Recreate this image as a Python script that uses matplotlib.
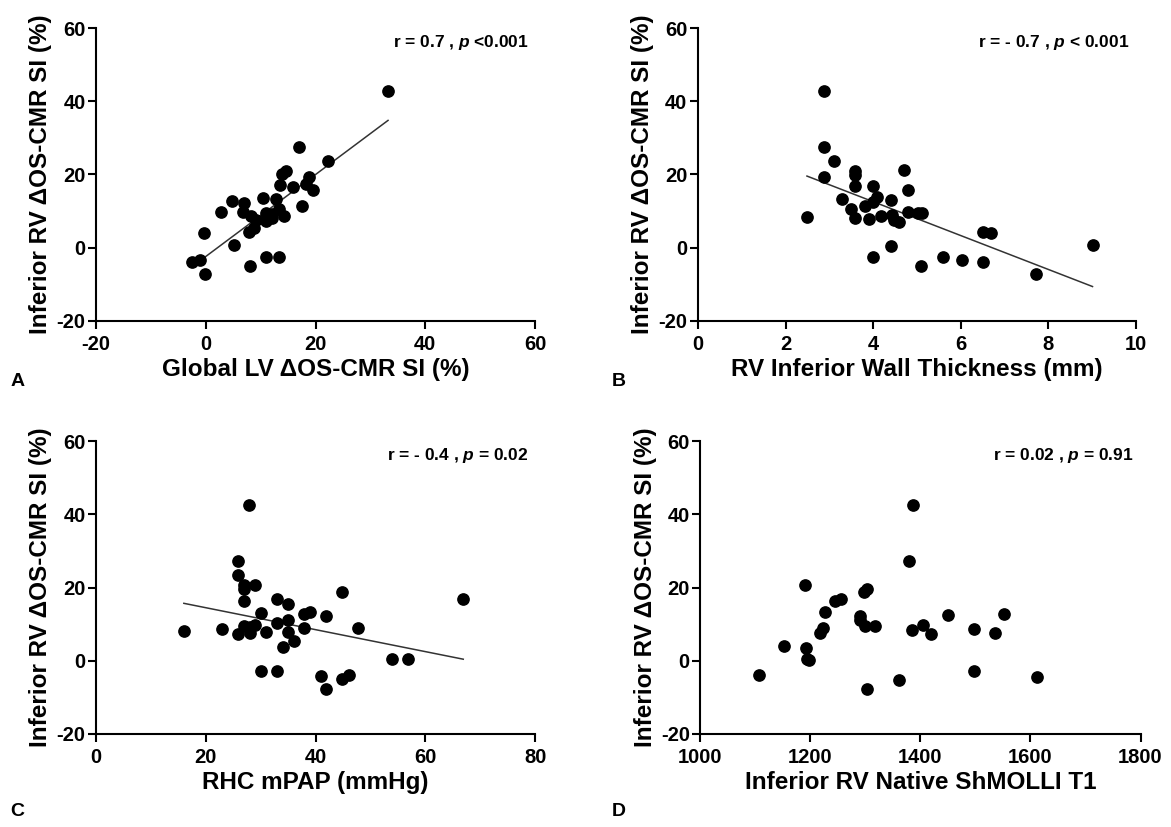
import numpy as np
import matplotlib
matplotlib.use("Agg")
import matplotlib.pyplot as plt

plt.rcParams['font.family'] = ['Liberation Sans', 'DejaVu Sans']
plt.rcParams['font.weight'] = 'bold'
plt.rcParams['axes.unicode_minus'] = False
plt.rcParams['mathtext.fontset'] = 'custom'
plt.rcParams['mathtext.rm'] = 'Liberation Sans:bold'
plt.rcParams['mathtext.it'] = 'Liberation Sans:italic:bold'

# Panel A: global LV vs inferior RV
a_x = [33.2, 16.9, 22.2, 14.7, 13.9, 18.8, 18.2, 13.5, 15.8, 19.5, 4.8, 7.0, 10.4, 12.7,
       17.6, 2.8, 6.7, 8.2, 10.9, 12.1, 14.2, 13.3, 9.1, 10.9, 12.1, 8.8, 7.9, -0.4, 5.2,
       -2.5, -1.1, -0.1, 8.1, 11.0, 13.3]
a_y = [42.7, 27.5, 23.6, 20.9, 20.0, 19.4, 17.5, 17.1, 16.6, 15.7, 12.7, 12.3, 13.6, 13.2,
       11.4, 9.8, 9.7, 8.6, 9.5, 9.1, 8.6, 10.5, 7.7, 7.3, 8.2, 5.5, 4.4, 4.1, 0.7,
       -3.9, -3.4, -7.3, -5.0, -2.5, -2.5]
a_fit = (1.12, -2.4)

# Panel B: wall thickness
b_x = [2.89, 2.89, 3.10, 2.89, 3.59, 3.59, 3.59, 4.71, 4.00, 4.80, 3.30, 4.10, 4.00, 4.40,
       3.81, 3.50, 3.59, 3.90, 4.19, 4.44, 4.47, 4.59, 4.80, 5.03, 5.12, 2.49, 6.51, 6.70,
       4.40, 4.00, 5.10, 5.60, 6.02, 6.51, 7.72, 9.01]
b_y = [42.8, 27.5, 23.6, 19.2, 20.9, 19.8, 16.9, 21.1, 16.8, 15.7, 13.4, 13.8, 12.4, 12.9,
       11.5, 10.5, 8.2, 7.8, 8.7, 8.8, 7.5, 7.1, 9.8, 9.4, 9.5, 8.3, 4.4, 3.9,
       0.5, -2.6, -5.0, -2.6, -3.5, -4.0, -7.3, 0.7]
b_fit = (-4.63, 31.1)

# Panel C: mPAP
c_x = [27.9, 25.9, 25.9, 26.9, 26.9, 28.9, 44.9, 66.9, 26.9, 32.9, 34.9, 30.0, 37.9, 39.0,
       41.9, 32.9, 34.9, 26.9, 28.0, 28.9, 16.0, 23.0, 25.9, 28.0, 30.9, 34.9, 37.9, 47.8,
       36.0, 34.0, 53.9, 56.9, 30.0, 32.9, 41.0, 44.9, 46.0, 41.9]
c_y = [42.6, 27.4, 23.5, 20.7, 19.6, 20.7, 18.9, 16.9, 16.3, 16.8, 15.5, 13.0, 12.7, 13.4,
       12.1, 10.4, 11.1, 9.6, 9.3, 9.8, 8.1, 8.6, 7.2, 7.5, 7.8, 7.9, 8.9, 8.9,
       5.4, 3.8, 0.5, 0.4, -2.7, -2.7, -4.2, -5.1, -3.9, -7.6]
c_fit = (-0.30, 20.5)

# Panel D: native T1
d_x = [1386, 1379, 1191, 1297, 1303, 1244, 1256, 1226, 1290, 1290, 1300, 1318, 1450, 1552,
       1405, 1384, 1419, 1497, 1536, 1223, 1218, 1153, 1193, 1197, 1194, 1106, 1497, 1612,
       1303, 1362]
d_y = [42.5, 27.3, 20.6, 18.8, 19.7, 16.2, 16.8, 13.2, 12.1, 11.1, 9.4, 9.4, 12.5, 12.9,
       9.7, 8.5, 7.3, 8.8, 7.5, 8.9, 7.7, 4.1, 3.6, 0.2, 0.5, -3.9, -2.9, -4.4,
       -7.7, -5.3]

ylab = 'Inferior RV ΔOS-CMR SI (%)'
panels = [
    ('A', a_x, a_y, a_fit, (-20, 60), [-20, 0, 20, 40, 60], 'Global LV ΔOS-CMR SI (%)',
     'r = 0.7 , $p$ <0.001', [0.082, 0.612, 0.375, 0.354], (0.009, 0.539)),
    ('B', b_x, b_y, b_fit, (0, 10), [0, 2, 4, 6, 8, 10], 'RV Inferior Wall Thickness (mm)',
     'r = - 0.7 , $p$ < 0.001', [0.596, 0.612, 0.374, 0.354], (0.522, 0.539)),
    ('C', c_x, c_y, c_fit, (0, 80), [0, 20, 40, 60, 80], 'RHC mPAP (mmHg)',
     'r = - 0.4 , $p$ = 0.02', [0.082, 0.1125, 0.375, 0.354], (0.009, 0.019)),
    ('D', d_x, d_y, None, (1000, 1800), [1000, 1200, 1400, 1600, 1800], 'Inferior RV Native ShMOLLI T1',
     'r = 0.02 , $p$ = 0.91', [0.598, 0.1125, 0.376, 0.354], (0.522, 0.019)),
]

fig = plt.figure(figsize=(11.71, 8.27), dpi=100)
for letter, xs, ys, fit, xlim, xt, xlab, note, pos, lpos in panels:
    ax = fig.add_axes(pos)
    ax.scatter(xs, ys, s=66, color='black', zorder=3, clip_on=False)
    if fit is not None:
        xx = np.array([min(xs), max(xs)])
        ax.plot(xx, fit[0] * xx + fit[1], color='#333333', lw=1.1, zorder=2)
    ax.set_xlim(*xlim)
    ax.set_ylim(-20, 60)
    ax.set_xticks(xt)
    ax.set_yticks([-20, 0, 20, 40, 60])
    ax.spines['top'].set_visible(False)
    ax.spines['right'].set_visible(False)
    for s in ('left', 'bottom'):
        ax.spines[s].set_linewidth(1.5)
    ax.tick_params(direction='out', length=6, width=1.5, labelsize=14.5)
    ax.tick_params(axis='x', pad=4)
    ax.tick_params(axis='y', pad=1.5)
    for lab in ax.get_xticklabels() + ax.get_yticklabels():
        lab.set_fontweight('bold')
    ax.set_xlabel(xlab, fontsize=17.5, fontweight='bold', labelpad=3)
    ax.set_ylabel(ylab, fontsize=17.5, fontweight='bold', labelpad=3)
    ax.text(0.985, 0.95, note, transform=ax.transAxes, ha='right', va='center',
            fontsize=12.5, fontweight='bold')
    fig.text(lpos[0], lpos[1], letter, fontsize=14, fontweight='bold',
             ha='left', va='center')

fig.savefig('out.png', dpi=100)
